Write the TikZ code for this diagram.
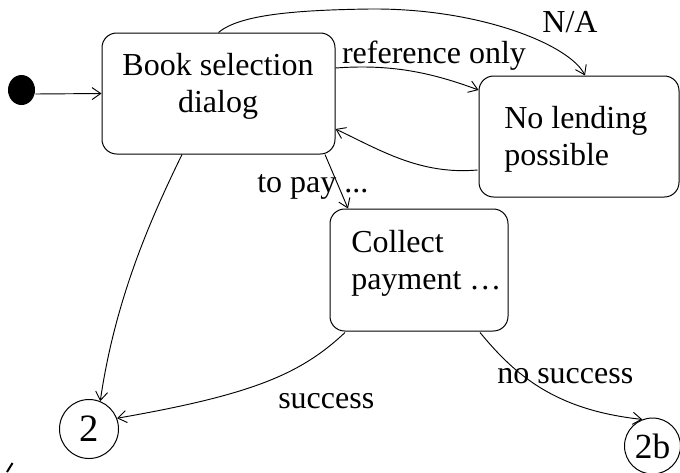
\documentclass[tikz,border=0pt]{standalone}
\usepackage{fontspec}
\setmainfont{Liberation Serif}
\usetikzlibrary{arrows.meta,shapes.geometric}
\begin{document}
\begin{tikzpicture}[x=0.75pt,y=-0.75pt,
  statebox/.style={draw, rounded corners=11pt, line width=0.75pt, inner sep=0pt},
  arr/.style={line width=0.7pt, -{Straight Barb[length=6.5pt,width=9pt]}},
  txt/.style={inner sep=0pt, font=\fontsize{24}{27.75}\selectfont},
  conn/.style={draw, circle, line width=0.75pt, inner sep=0pt}]
\useasboundingbox (0,0) rectangle (680,472);
% states
\node[fill=black, ellipse, inner sep=0pt, minimum width=20.25pt, minimum height=22.5pt] (init) at (21.5,90) {};
\node[statebox, minimum width=174.75pt, minimum height=90.75pt] (book) at (218.5,93.5) {};
\node[statebox, minimum width=150pt, minimum height=90.75pt] (nolend) at (579,136.5) {};
\node[statebox, minimum width=133.5pt, minimum height=91.5pt] (collect) at (419,270) {};
\node[conn, minimum size=44.25pt, font=\fontsize{29}{34}\selectfont] (c2) at (89,429) {2};
\node[conn, minimum size=42pt, font=\fontsize{26.5}{32}\selectfont] (c2b) at (652.5,446) {2b};
% state texts
\node[txt, align=center, anchor=north] (booktxt) at (218,53) {Book selection\\dialog};
\node[txt, align=left, anchor=north west] (nolendtxt) at (504,106) {No lending\\possible};
\node[txt, align=left, anchor=north west] (collecttxt) at (351,230) {Collect\\payment …};
% connectors
\draw[arr] ([shift={(0,4)}]init.east) -- ([shift={(0,0)}]book.west);
\draw[arr] (book.north) .. controls (240,14) and (300,10) .. (370,9)
  .. controls (480,8) and (570,45) .. ([shift={(6,0)}]nolend.north);
\draw[arr] ([shift={(0,-25.5)}]book.east) .. controls (390,64) and (430,72) .. ([shift={(0,-46.5)}]nolend.west);
\draw[arr] ([shift={(-1,33.5)}]nolend.west) .. controls (420,175) and (380,150) .. ([shift={(0,35.5)}]book.east);
\draw[arr] ([shift={(106.5,0)}]book.south) -- ([shift={(-71,0)}]collect.north);
\draw[arr] ([shift={(-36.5,0)}]book.south) .. controls (150,220) and (115,300) .. (c2.68);
\draw[arr] ([shift={(-74,1)}]collect.south) .. controls (300,375) and (250,395) .. (c2.21);
\draw[arr] ([shift={(61,1)}]collect.south) .. controls (515,375) and (555,410) .. (c2b.111);
% labels
\node[txt, anchor=base] (lna) at (570,32) {N/A};
\node[txt, anchor=base] (lref) at (434,63) {reference only};
\node[txt, anchor=base west] (lpay) at (257,192) {to pay ...};
\node[txt, anchor=base west] (lsucc) at (278,408) {success};
\node[txt, anchor=base west] (lnosucc) at (497,383) {no success};
% stray mark
\draw[line width=1.5pt] (7,472) -- (12.5,463);
\end{tikzpicture}
\end{document}
